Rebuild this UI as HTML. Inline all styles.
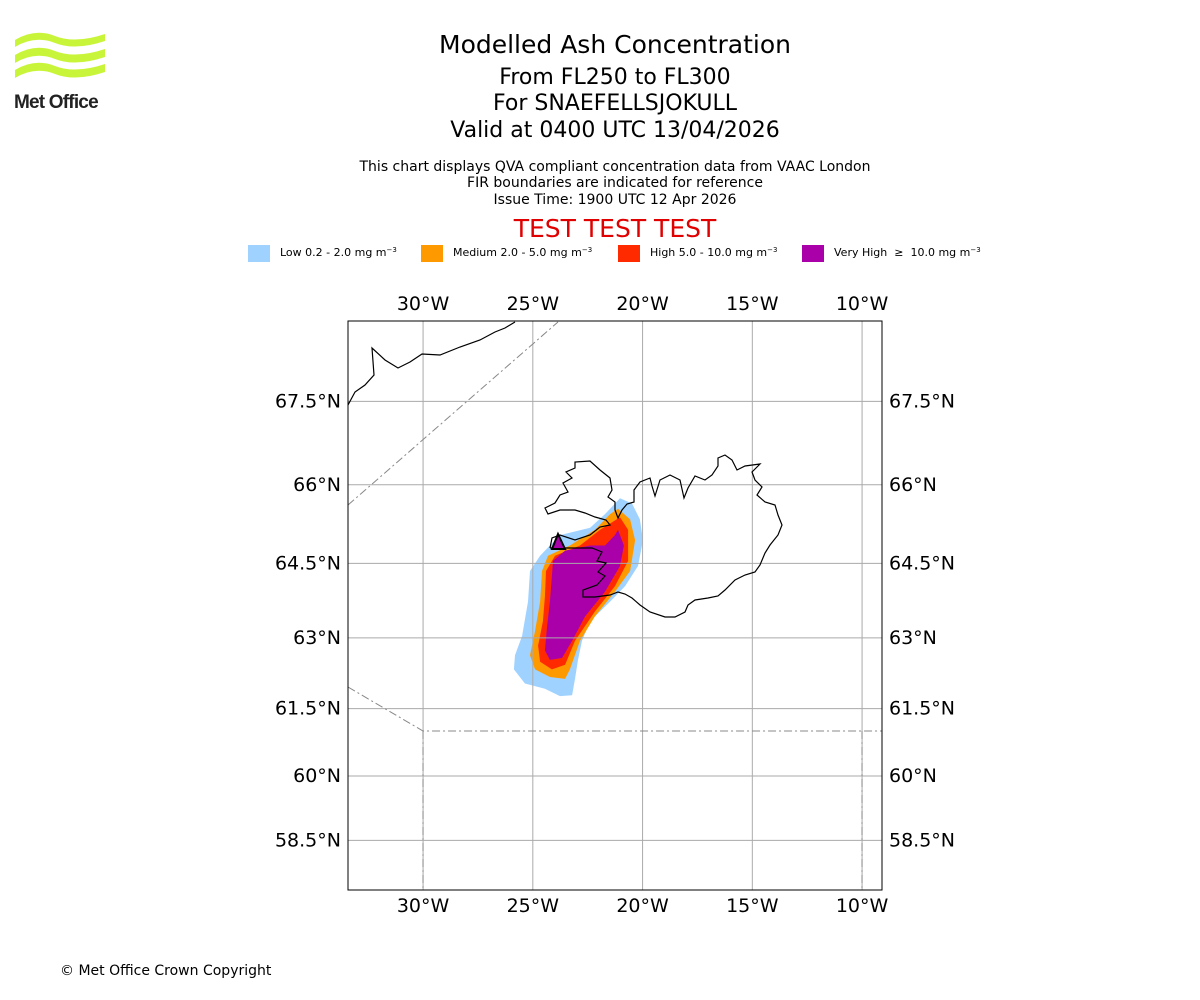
<!DOCTYPE html>
<html><head><meta charset="utf-8"><style>
body{margin:0;background:#fff;width:1200px;height:1000px;overflow:hidden;font-family:"Liberation Sans","DejaVu Sans",sans-serif}
svg{position:absolute;left:0;top:0}
</style></head><body>
<svg width="1200" height="1000" viewBox="0 0 1200 1000" font-family="DejaVu Sans, Liberation Sans, sans-serif">
<g>
<path d="M15,40 Q35,28 55,36 Q75,44 105,34 L105,41 Q75,51 55,43 Q35,35 15,47Z" fill="#c8f53a"/>
<path d="M15,55 Q35,43 55,51 Q75,59 105,49 L105,57 Q75,67 55,59 Q35,51 15,63Z" fill="#c8f53a"/>
<path d="M15,70 Q35,58 55,66 Q75,74 105,64 L105,72 Q75,82 55,74 Q35,66 15,78Z" fill="#c8f53a"/>
<text x="14" y="108" font-size="19" font-weight="bold" fill="#222" font-family="Liberation Sans, sans-serif" letter-spacing="-0.8">Met Office</text>
</g>
<g text-anchor="middle" fill="#000">
<text x="615" y="53" font-size="25">Modelled Ash Concentration</text>
<text x="615" y="84" font-size="22">From FL250 to FL300</text>
<text x="615" y="110" font-size="22">For SNAEFELLSJOKULL</text>
<text x="615" y="137" font-size="22">Valid at 0400 UTC 13/04/2026</text>
<text x="615" y="171" font-size="14">This chart displays QVA compliant concentration data from VAAC London</text>
<text x="615" y="187" font-size="14">FIR boundaries are indicated for reference</text>
<text x="615" y="204" font-size="14">Issue Time: 1900 UTC 12 Apr 2026</text>
<text x="615" y="237" font-size="25" fill="#e00000">TEST TEST TEST</text>
</g>
<g font-size="11">
<rect x="248" y="245" width="22" height="17" fill="#a0d2ff"/>
<text x="280" y="256">Low 0.2 - 2.0 mg m<tspan dy="-4" font-size="7">−3</tspan></text>
<rect x="421" y="245" width="22" height="17" fill="#ff9900"/>
<text x="453" y="256">Medium 2.0 - 5.0 mg m<tspan dy="-4" font-size="7">−3</tspan></text>
<rect x="618" y="245" width="22" height="17" fill="#ff2a00"/>
<text x="650" y="256">High 5.0 - 10.0 mg m<tspan dy="-4" font-size="7">−3</tspan></text>
<rect x="802" y="245" width="22" height="17" fill="#aa00aa"/>
<text x="834" y="256" xml:space="preserve">Very High  ≥  10.0 mg m<tspan dy="-4" font-size="7">−3</tspan></text>
</g>
<g id="plume"></g>
<g id="grid"></g>
<g fill="none" stroke="#000" stroke-width="1.2">
<path d="M550,548 L552,538 L560,535 L575,540 L590,535 L600,527 L610,525 L606,520 L595,517 L585,513 L575,510 L560,510 L548,514 L545,508 L555,503 L560,495 L568,492 L563,483 L572,478 L566,472 L575,468 L575,462 L590,461 L600,470 L610,478 L612,490 L608,497 L615,502 L615,510 L618,518 L622,510 L627,504 L634,502 L634,490 L640,482 L650,478 L652,486 L655,496 L660,480 L670,475 L680,480 L684,498 L688,488 L695,476 L705,480 L712,475 L718,466 L718,458 L725,455 L732,460 L737,470 L745,466 L760,464 L752,472 L755,480 L762,487 L757,495 L765,502 L775,505 L778,515 L782,525 L778,535 L770,545 L765,553 L760,565 L755,572 L745,575 L735,580 L725,590 L718,596 L708,598 L695,600 L688,605 L685,612 L675,617 L665,617 L650,612 L640,605 L632,598 L625,594 L618,592 L610,595 L595,597 L583,597 L583,590 L597,585 L605,576 L598,572 L606,563 L597,561 L602,552 L592,548 L570,548 L550,548"/>
<path d="M348,405 L355,392 L365,385 L374,375 L372,348 L385,360 L398,368 L410,362 L422,354 L440,355 L460,347 L480,340 L495,332 L505,328 L515,322"/>
</g>
<g fill="none" stroke="#888" stroke-width="1" stroke-dasharray="8,3,2,3">
<path d="M348,505 L558,322"/>
<path d="M348,687 L423,731 L882,731"/>
<path d="M423,731 L423,890"/>
<path d="M862,731 L862,890"/>
</g>
<path d="M552,549 L558,534 L565,549 Z" fill="#aa00aa" stroke="#000" stroke-width="2"/>
<rect x="348" y="321" width="534" height="569" fill="none" stroke="#000" stroke-width="1"/>
<g id="labels" font-size="19"></g>
<text x="60" y="975" font-size="14">© Met Office Crown Copyright</text>
</svg>
<script>
const lonTicks=[-30,-25,-20,-15,-10];
const lonLabels=["30°W","25°W","20°W","15°W","10°W"];
const latTicks=[58.5,60,61.5,63,64.5,66,67.5];
const latLabels=["58.5°N","60°N","61.5°N","63°N","64.5°N","66°N","67.5°N"];
const lowLon=[-21.03,-20.48,-20.12,-19.98,-20.21,-20.80,-21.48,-22.39,-22.76,-22.94,-23.08,-23.21,-23.76,-24.45,-25.36,-25.86,-25.81,-25.49,-25.22,-25.13,-24.67,-24.22,-23.76,-22.39,-21.71];
const lowLat=[65.75,65.65,65.35,64.95,64.45,64.05,63.74,63.34,62.94,62.54,62.14,61.79,61.77,61.93,62.04,62.34,62.64,63.04,63.74,64.35,64.65,64.85,65.05,65.19,65.45];
const medLon=[-21.12,-20.57,-20.34,-20.57,-21.26,-22.17,-22.85,-23.31,-23.53,-24.22,-24.90,-25.13,-24.90,-24.67,-24.58,-24.31,-23.31,-22.17,-21.48];
const medLat=[65.55,65.35,64.95,64.35,63.94,63.44,62.94,62.34,62.14,62.18,62.34,62.64,63.14,63.74,64.35,64.65,64.85,65.15,65.45];
const highLon=[-21.03,-20.66,-20.66,-21.26,-22.17,-23.08,-23.53,-24.13,-24.67,-24.76,-24.54,-24.45,-24.40,-23.99,-22.85,-21.94];
const highLat=[65.39,65.15,64.55,64.05,63.54,62.94,62.44,62.34,62.50,62.84,63.34,63.84,64.35,64.65,64.85,65.15];
const vhighLon=[-21.12,-20.85,-21.03,-21.71,-22.62,-23.21,-23.67,-24.22,-24.45,-24.35,-24.22,-24.13,-24.08,-23.53,-22.39,-21.71,-21.26];
const vhighLat=[65.15,64.85,64.45,63.94,63.44,62.94,62.58,62.54,62.74,63.24,63.74,64.25,64.55,64.75,64.85,64.85,65.05];
const NS='http://www.w3.org/2000/svg';
const X0=348,X1=882,Y0=321,Y1=890;
function xs(lon){return 348+(lon+33.42)*21.95;}
function merc(lat){return Math.log(Math.tan(Math.PI/4+lat*Math.PI/360));}
function ys(lat){return 776-1257.6*(merc(lat)-merc(60));}
const plume=document.getElementById('plume');
[[lowLon,lowLat,'#a0d2ff','plume-low'],[medLon,medLat,'#ff9900','plume-medium'],[highLon,highLat,'#ff2a00','plume-high'],[vhighLon,vhighLat,'#aa00aa','plume-very-high']].forEach(function(s){
  const p=document.createElementNS(NS,'polygon');
  p.setAttribute('points',s[0].map(function(v,i){return xs(v).toFixed(1)+','+ys(s[1][i]).toFixed(1);}).join(' '));
  p.setAttribute('fill',s[2]);
  
  
  plume.appendChild(p);
});
const grid=document.getElementById('grid'),labels=document.getElementById('labels');
lonTicks.forEach(function(v,i){
  const x=xs(v);
  const l=document.createElementNS(NS,'line');
  l.setAttribute('x1',x);l.setAttribute('x2',x);l.setAttribute('y1',Y0);l.setAttribute('y2',Y1);
  l.setAttribute('stroke','#aaa');
  
  
  grid.appendChild(l);
  [310,912].forEach(function(y){
    const t=document.createElementNS(NS,'text');
    t.setAttribute('x',x);t.setAttribute('y',y);t.setAttribute('text-anchor','middle');
    t.textContent=lonLabels[i];
    
    
    labels.appendChild(t);
  });
});
latTicks.forEach(function(v,i){
  const y=ys(v);
  const l=document.createElementNS(NS,'line');
  l.setAttribute('x1',X0);l.setAttribute('x2',X1);l.setAttribute('y1',y);l.setAttribute('y2',y);
  l.setAttribute('stroke','#aaa');
  
  
  grid.appendChild(l);
  [[341,'end'],[889,'start']].forEach(function(a){
    const t=document.createElementNS(NS,'text');
    t.setAttribute('x',a[0]);t.setAttribute('y',y+6);t.setAttribute('text-anchor',a[1]);
    t.textContent=latLabels[i];
    
    
    labels.appendChild(t);
  });
});
</script>
</body></html>
